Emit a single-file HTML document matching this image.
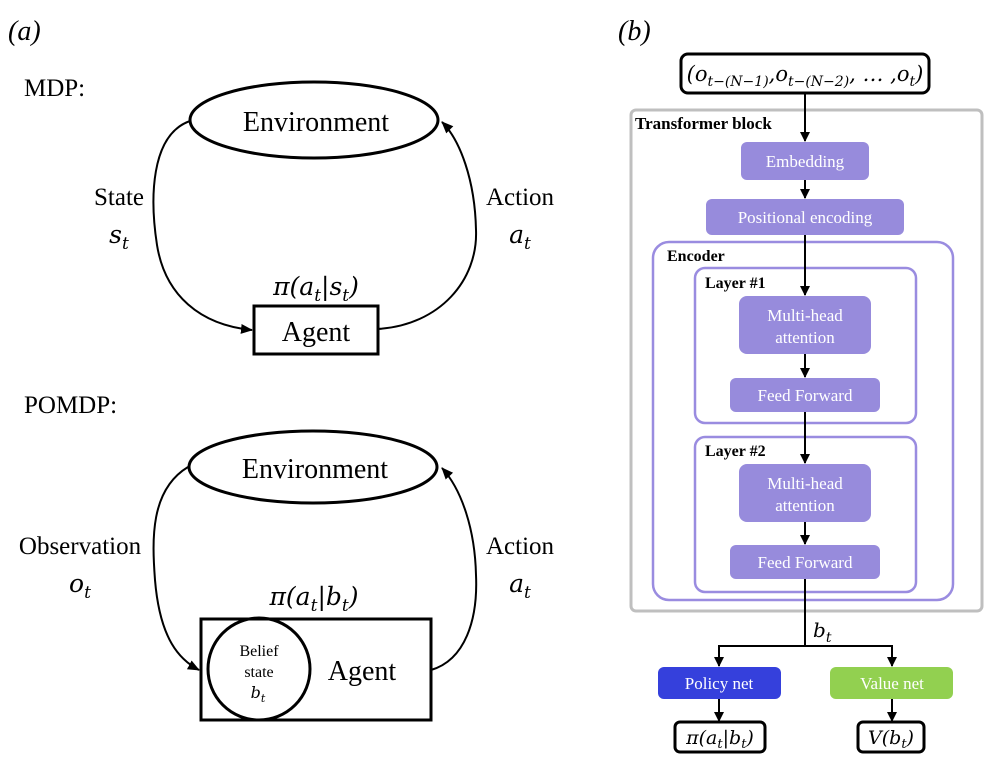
<!DOCTYPE html>
<html><head><meta charset="utf-8"><style>
html,body{margin:0;padding:0;background:#fff;}
svg{display:block;}
text{font-family:"Liberation Serif",serif;}
.m{font-family:"DejaVu Serif","Liberation Serif",serif;font-style:italic;}
.w{fill:#fff;font-size:17px;}
</style></head><body>
<svg width="997" height="765" viewBox="0 0 997 765" xmlns="http://www.w3.org/2000/svg">
<defs>
<marker id="a" markerWidth="10" markerHeight="10" refX="9" refY="5" orient="auto" markerUnits="userSpaceOnUse"><path d="M0,0 L10,5 L0,10 z" fill="#000"/></marker>
<marker id="b" markerWidth="12" markerHeight="12" refX="11" refY="6" orient="auto" markerUnits="userSpaceOnUse"><path d="M0,1 L12,6 L0,11 z" fill="#000"/></marker>
</defs>
<text x="8" y="40" font-size="28" font-style="italic">(a)</text>
<text x="24" y="96" font-size="25">MDP:</text>
<ellipse cx="314" cy="120" rx="124" ry="38" fill="none" stroke="#000" stroke-width="3"/>
<text x="316" y="131" font-size="28" text-anchor="middle">Environment</text>
<rect x="254" y="306" width="124" height="48" fill="none" stroke="#000" stroke-width="3"/>
<text x="316" y="341" font-size="28" text-anchor="middle">Agent</text>
<text x="316" y="295" font-size="25" text-anchor="middle" class="m">π(a<tspan font-size="17" dy="6">t</tspan><tspan dy="-6">|s</tspan><tspan font-size="17" dy="6">t</tspan><tspan dy="-6">)</tspan></text>
<path d="M190,121 C150,135 150,200 157,245 C165,295 200,325 252,330" fill="none" stroke="#000" stroke-width="2" marker-end="url(#b)"/>
<path d="M378,329 C440,325 478,280 476,230 C475,180 460,140 442,122" fill="none" stroke="#000" stroke-width="2" marker-end="url(#b)"/>
<text x="119" y="205" font-size="25" text-anchor="middle">State</text>
<text x="119" y="243" font-size="25" text-anchor="middle" class="m">s<tspan font-size="17" dy="6">t</tspan></text>
<text x="520" y="205" font-size="25" text-anchor="middle">Action</text>
<text x="520" y="243" font-size="25" text-anchor="middle" class="m">a<tspan font-size="17" dy="6">t</tspan></text>

<text x="24" y="413" font-size="25">POMDP:</text>
<ellipse cx="313" cy="467" rx="124" ry="36" fill="none" stroke="#000" stroke-width="3"/>
<text x="315" y="478" font-size="28" text-anchor="middle">Environment</text>
<rect x="201" y="619" width="230" height="101" fill="none" stroke="#000" stroke-width="3"/>
<circle cx="259" cy="669" r="51" fill="none" stroke="#000" stroke-width="3"/>
<text x="259" y="656" font-size="16" text-anchor="middle">Belief</text>
<text x="259" y="677" font-size="16" text-anchor="middle">state</text>
<text x="258" y="698" font-size="16" text-anchor="middle" class="m">b<tspan font-size="11" dy="4">t</tspan></text>
<text x="362" y="680" font-size="28" text-anchor="middle">Agent</text>
<text x="314" y="605" font-size="25" text-anchor="middle" class="m">π(a<tspan font-size="17" dy="6">t</tspan><tspan dy="-6">|b</tspan><tspan font-size="17" dy="6">t</tspan><tspan dy="-6">)</tspan></text>
<path d="M188,467 C150,490 152,540 155,580 C160,640 180,660 199,670" fill="none" stroke="#000" stroke-width="2" marker-end="url(#b)"/>
<path d="M431,670 C465,660 478,620 476,575 C475,530 462,490 442,468" fill="none" stroke="#000" stroke-width="2" marker-end="url(#b)"/>
<text x="80" y="554" font-size="25" text-anchor="middle">Observation</text>
<text x="80" y="592" font-size="25" text-anchor="middle" class="m">o<tspan font-size="17" dy="6">t</tspan></text>
<text x="520" y="554" font-size="25" text-anchor="middle">Action</text>
<text x="520" y="592" font-size="25" text-anchor="middle" class="m">a<tspan font-size="17" dy="6">t</tspan></text>

<text x="618" y="40" font-size="28" font-style="italic">(b)</text>
<rect x="681" y="54" width="248" height="39" rx="7" fill="#fff" stroke="#000" stroke-width="3"/>
<text x="805" y="81" font-size="21" text-anchor="middle" class="m">(o<tspan font-size="14" dy="5">t−(N−1)</tspan><tspan dy="-5">,o</tspan><tspan font-size="14" dy="5">t−(N−2)</tspan><tspan dy="-5">, … ,o</tspan><tspan font-size="14" dy="5">t</tspan><tspan dy="-5">)</tspan></text>
<rect x="631" y="110" width="351" height="501" rx="5" fill="none" stroke="#bfbfbf" stroke-width="3"/>
<text x="635" y="129" font-size="17" font-weight="bold">Transformer block</text>
<rect x="653" y="242" width="300" height="358" rx="16" fill="none" stroke="#9a8ce0" stroke-width="2.5"/>
<text x="667" y="261" font-size="16" font-weight="bold">Encoder</text>
<rect x="695" y="268" width="221" height="155" rx="10" fill="none" stroke="#9a8ce0" stroke-width="2.5"/>
<text x="705" y="288" font-size="16" font-weight="bold">Layer #1</text>
<rect x="695" y="437" width="221" height="155" rx="10" fill="none" stroke="#9a8ce0" stroke-width="2.5"/>
<text x="705" y="456" font-size="16" font-weight="bold">Layer #2</text>
<g fill="#978bdc">
<rect x="741" y="142" width="128" height="38" rx="6"/>
<rect x="706" y="199" width="198" height="36" rx="6"/>
<rect x="739" y="296" width="132" height="58" rx="8"/>
<rect x="730" y="378" width="150" height="34" rx="6"/>
<rect x="739" y="464" width="132" height="58" rx="8"/>
<rect x="730" y="545" width="150" height="34" rx="6"/>
</g>
<text class="w" x="805" y="167" text-anchor="middle">Embedding</text>
<text class="w" x="805" y="223" text-anchor="middle">Positional encoding</text>
<text class="w" x="805" y="321" text-anchor="middle">Multi-head</text>
<text class="w" x="805" y="343" text-anchor="middle">attention</text>
<text class="w" x="805" y="401" text-anchor="middle">Feed Forward</text>
<text class="w" x="805" y="489" text-anchor="middle">Multi-head</text>
<text class="w" x="805" y="511" text-anchor="middle">attention</text>
<text class="w" x="805" y="568" text-anchor="middle">Feed Forward</text>
<g stroke="#000" stroke-width="2" fill="none">
<line x1="805" y1="93" x2="805" y2="141" marker-end="url(#a)"/>
<line x1="805" y1="180" x2="805" y2="198" marker-end="url(#a)"/>
<line x1="805" y1="235" x2="805" y2="295" marker-end="url(#a)"/>
<line x1="805" y1="354" x2="805" y2="377" marker-end="url(#a)"/>
<line x1="805" y1="412" x2="805" y2="463" marker-end="url(#a)"/>
<line x1="805" y1="522" x2="805" y2="544" marker-end="url(#a)"/>
<polyline points="805,579 805,646"/>
<polyline points="719,646 892,646"/>
<line x1="719" y1="645" x2="719" y2="666" marker-end="url(#a)"/>
<line x1="892" y1="645" x2="892" y2="666" marker-end="url(#a)"/>
<line x1="719" y1="699" x2="719" y2="721" marker-end="url(#a)"/>
<line x1="892" y1="699" x2="892" y2="721" marker-end="url(#a)"/>
</g>
<text x="813" y="637" font-size="20" class="m">b<tspan font-size="14" dy="5">t</tspan></text>
<rect x="658" y="667" width="123" height="32" rx="6" fill="#3540dc"/>
<rect x="830" y="667" width="123" height="32" rx="6" fill="#92d050"/>
<text class="w" x="719" y="689" text-anchor="middle">Policy net</text>
<text class="w" x="892" y="689" text-anchor="middle">Value net</text>
<rect x="675" y="722" width="90" height="30" rx="5" fill="#fff" stroke="#000" stroke-width="3"/>
<rect x="858" y="722" width="66" height="30" rx="5" fill="#fff" stroke="#000" stroke-width="3"/>
<text x="720" y="744" font-size="19" text-anchor="middle" class="m">π(a<tspan font-size="13" dy="4">t</tspan><tspan dy="-4">|b</tspan><tspan font-size="13" dy="4">t</tspan><tspan dy="-4">)</tspan></text>
<text x="891" y="744" font-size="19" text-anchor="middle" class="m">V(b<tspan font-size="13" dy="4">t</tspan><tspan dy="-4">)</tspan></text>
</svg>
</body></html>
